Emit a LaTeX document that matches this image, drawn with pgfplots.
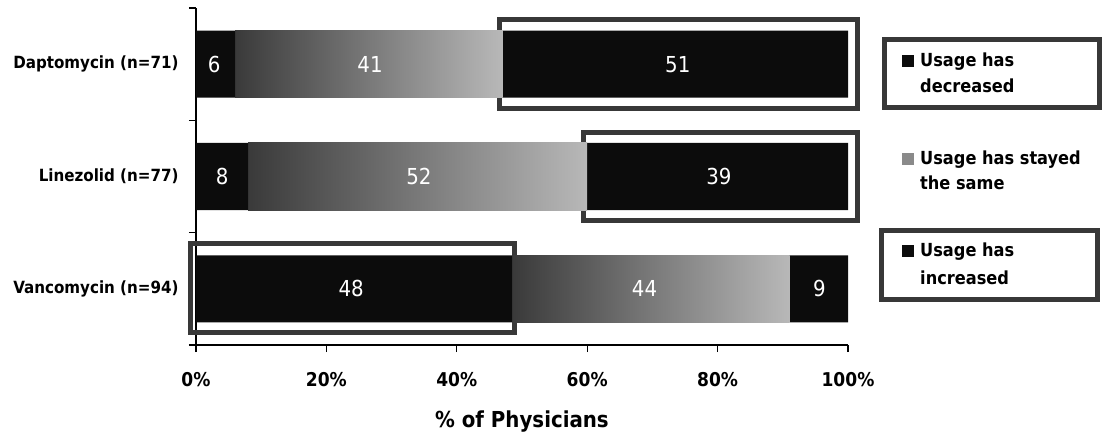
\documentclass[border=0pt]{standalone}
\usepackage{pgfplots}
\pgfplotsset{compat=1.18}
\usepackage{pgfplotstable}
\usepackage{fontspec}
\setmainfont{DejaVu Sans Condensed}
\definecolor{barblack}{HTML}{0C0C0C}
\definecolor{framegray}{HTML}{383838}
\definecolor{graydark}{HTML}{3A3A3A}
\definecolor{graylight}{HTML}{B8B8B8}
\definecolor{legendgray}{HTML}{8A8A8A}

% y: 0 = Vancomycin, 1 = Linezolid, 2 = Daptomycin
% the "stayed the same" segments are split into one series per drug
% (zeros elsewhere) so that each bar gets its own left-to-right shading
\pgfplotstableread{
y dec sameD sameL sameV inc
0 48.5 0 0 42.5 9
1 8 0 52 0 40
2 6 41 0 0 53
}\bars
\pgfplotstableread{
x y lab
23.8 0 48
68.8 0 44
95.6 0 9
4.0 1 8
34.2 1 52
80.2 1 39
2.8 2 6
26.7 2 41
73.9 2 51
}\labels

\begin{document}
\begin{tikzpicture}
\useasboundingbox (0,0) rectangle (1104bp,436bp);
\begin{axis}[
  at={(196bp,91bp)}, anchor=south west,
  scale only axis, width=652bp, height=337bp,
  xmin=0, xmax=100, ymin=-0.5, ymax=2.5,
  clip=false,
  axis x line*=bottom, axis y line*=left,
  axis line style={-, black, line width=1.2bp},
  xbar stacked, bar width=67bp,
  xtick={0,20,40,60,80,100},
  xticklabels={0\%,20\%,40\%,60\%,80\%,100\%},
  tick align=outside,
  major tick length=7bp,
  tick style={black, line width=1.2bp},
  xticklabel style={font=\bfseries\fontsize{19bp}{22bp}\selectfont, yshift=-17bp},
  ytick={-0.5,0.5,1.5,2.5}, yticklabels={},
  extra y ticks={0,1,2},
  extra y tick labels={Vancomycin (n=94),Linezolid (n=77),Daptomycin (n=71)},
  extra y tick style={major tick length=0pt,
    yticklabel style={font=\bfseries\fontsize{16.8bp}{20bp}\selectfont, xshift=-14bp}},
  xlabel={\% of Physicians},
  xlabel style={at={(axis description cs:0.5,0)}, anchor=center, yshift=-77bp,
    font=\bfseries\fontsize{22bp}{26bp}\selectfont},
]
\addplot[draw=none, fill=barblack] table[x=dec, y=y] {\bars};
\addplot[draw=none, left color=graydark, right color=graylight] table[x=sameD, y=y] {\bars};
\addplot[draw=none, left color=graydark, right color=graylight] table[x=sameL, y=y] {\bars};
\addplot[draw=none, left color=graydark, right color=graylight] table[x=sameV, y=y] {\bars};
\addplot[draw=none, fill=barblack] table[x=inc, y=y] {\bars};
% highlight frames
\draw[framegray, line width=5bp] (axis cs:46.55,1.605) rectangle (axis cs:101.46,2.395);
\draw[framegray, line width=5bp] (axis cs:59.43,0.605) rectangle (axis cs:101.46,1.395);
\draw[framegray, line width=5bp] (axis cs:-0.84,-0.39) rectangle (axis cs:48.85,0.40);
\end{axis}
\begin{axis}[
  at={(196bp,91bp)}, anchor=south west,
  scale only axis, width=652bp, height=337bp,
  xmin=0, xmax=100, ymin=-0.5, ymax=2.5,
  hide axis, clip=false,
]
\addplot[draw=none, mark=none, nodes near coords, point meta=explicit symbolic,
  every node near coord/.append style={anchor=center, text=white,
    font=\fontsize{22bp}{26bp}\selectfont}]
  table[x=x, y=y, meta=lab] {\labels};
\end{axis}
% legend
\draw[framegray, line width=5bp] (884bp,396.5bp) rectangle (1099bp,328.5bp);
\draw[framegray, line width=5bp] (881bp,205.5bp) rectangle (1097.5bp,136.5bp);
\fill[barblack] (902bp,369bp) rectangle (914bp,381bp);
\fill[legendgray] (902bp,271bp) rectangle (914bp,283bp);
\fill[barblack] (902bp,179bp) rectangle (914bp,191bp);
\begin{scope}[every node/.style={anchor=base west, inner sep=0pt,
    font=\bfseries\fontsize{18bp}{21bp}\selectfont}]
\node at (920bp,369bp) {Usage has};
\node at (920bp,343bp) {decreased};
\node at (920bp,271bp) {Usage has stayed};
\node at (920bp,246bp) {the same};
\node at (920bp,179bp) {Usage has};
\node at (920bp,151bp) {increased};
\end{scope}
\end{tikzpicture}
\end{document}
